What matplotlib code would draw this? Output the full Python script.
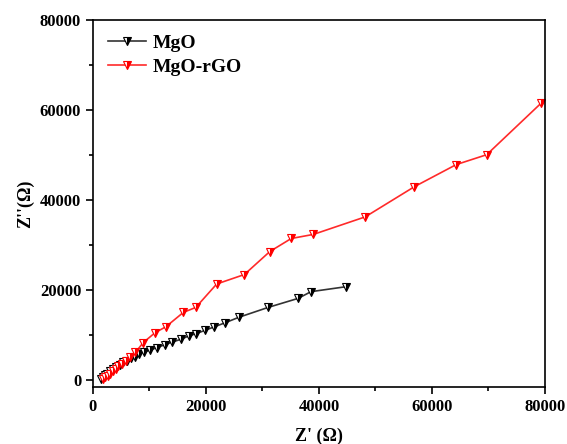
import matplotlib
matplotlib.use("Agg")
import matplotlib.pyplot as plt
from matplotlib.ticker import MultipleLocator

# ============================================
# DATA (Nyquist plot, Z' vs Z'')
# ============================================

mgo_zre = [1400, 1700, 2100, 2500, 3000, 3500, 4100, 4800, 5400, 6000,
           6700, 7400, 8200, 9000, 10100, 11300, 12700, 14000, 15500, 17000,
           18300, 19800, 21500, 23400, 25800, 31000, 36300, 38600, 44800]
mgo_zim = [300, 700, 1100, 1500, 2000, 2500, 3000, 3500, 4000, 4400,
           4900, 5300, 5900, 6300, 6700, 7300, 7900, 8500, 9100, 9900,
           10400, 11100, 11900, 12800, 14000, 16200, 18200, 19700, 20800]

rgo_zre = [1800, 2200, 2600, 3000, 3500, 4000, 4500, 5100, 5800, 6500,
           7500, 8900, 11000, 12900, 16000, 18200, 21900, 26800, 31300, 35100,
           39000, 48200, 56900, 64300, 69700, 79300]
rgo_zim = [400, 700, 1000, 1500, 2000, 2600, 3100, 3700, 4400, 5300,
           6200, 8400, 10600, 11900, 15100, 16200, 21400, 23500, 28600, 31500,
           32400, 36300, 43000, 47900, 50100, 61500]

plt.rcParams["font.family"] = ["Liberation Serif", "DejaVu Serif"]
plt.rcParams["font.weight"] = "bold"

fig = plt.figure(figsize=(5.67, 4.44), dpi=100)
ax = fig.add_axes([0.164, 0.128, 0.797, 0.827])

marker_style = dict(marker="v", markersize=5.5, fillstyle="right",
                    markerfacecoloralt="white", markeredgewidth=0.8, linewidth=1.2)

ax.plot(mgo_zre, mgo_zim, color="#333333", markerfacecolor="black",
        markeredgecolor="black", label="MgO", **marker_style)
ax.plot(rgo_zre, rgo_zim, color="#ff2a2a", markerfacecolor="red",
        markeredgecolor="red", label="MgO-rGO", **marker_style)

ax.set_xlim(0, 80000)
ax.set_ylim(-1500, 80000)
ax.xaxis.set_major_locator(MultipleLocator(20000))
ax.xaxis.set_minor_locator(MultipleLocator(10000))
ax.yaxis.set_major_locator(MultipleLocator(20000))
ax.yaxis.set_minor_locator(MultipleLocator(10000))
ax.tick_params(which="major", direction="out", length=5, width=1.2, labelsize=12)
ax.tick_params(which="minor", direction="out", length=3, width=1.2)

for label in ax.get_xticklabels() + ax.get_yticklabels():
    label.set_fontweight("bold")
for spine in ax.spines.values():
    spine.set_linewidth(1.2)

ax.set_xlabel("Z' (Ω)", fontsize=13, fontweight="bold", labelpad=9)
ax.set_ylabel("Z''(Ω)", fontsize=13, fontweight="bold", labelpad=4)

ax.legend(loc="upper left", frameon=False, prop={"size": 14, "weight": "bold"},
          handlelength=2.0, handletextpad=0.3, borderaxespad=0.2,
          borderpad=0.55, labelspacing=0.3)

fig.savefig("out.png", dpi=100)
